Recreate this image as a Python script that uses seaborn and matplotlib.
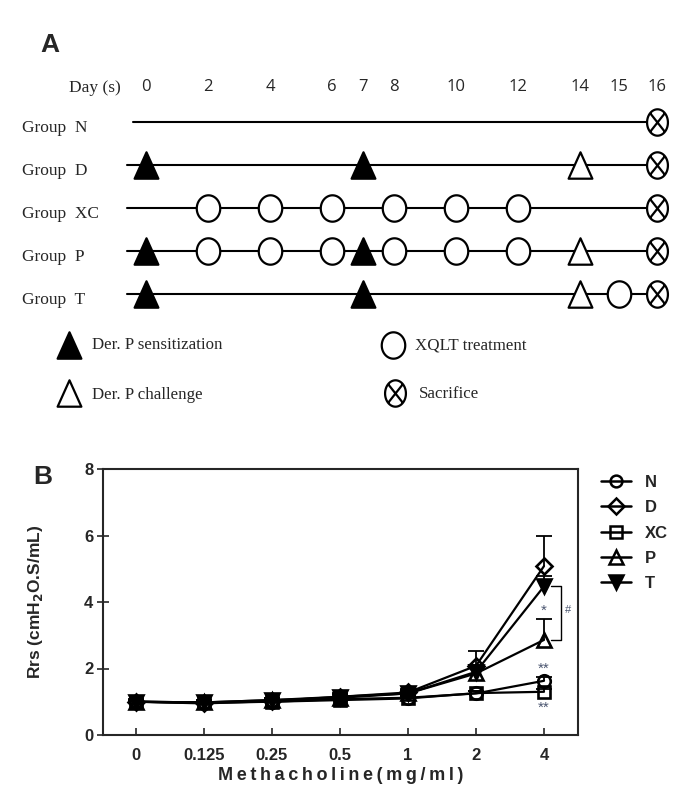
import numpy as np
import pandas as pd
import matplotlib
matplotlib.use("Agg")
import matplotlib.pyplot as plt
import seaborn as sns
from matplotlib.path import Path
from matplotlib.lines import Line2D

# ---- Panel A : 実験スケジュール ----
groups_a = ["N", "D", "XC", "P", "T"]
day_ticks = [0, 2, 4, 6, 7, 8, 10, 12, 14, 15, 16]
sensitization_days = {"N": [], "D": [0, 7], "XC": [], "P": [0, 7], "T": [0, 7]}
challenge_days = {"N": [], "D": [14], "XC": [], "P": [14], "T": [14]}
treatment_days = {"N": [], "D": [], "XC": [2, 4, 6, 8, 10, 12],
                  "P": [2, 4, 6, 8, 10, 12], "T": [15]}
sacrifice_day = 16
line_start = {"N": -0.42, "D": -0.6, "XC": -0.6, "P": -0.6, "T": -0.6}

# ---- Panel B : 気道抵抗 ----
doses = ["0", "0.125", "0.25", "0.5", "1", "2", "4"]
groups_b = ["N", "D", "XC", "P", "T"]
rrs_N = [1.00, 0.97, 1.00, 1.08, 1.12, 1.25, 1.63]
rrs_D = [1.00, 0.95, 1.02, 1.15, 1.28, 2.08, 5.08]
rrs_XC = [1.00, 0.98, 1.00, 1.05, 1.10, 1.26, 1.30]
rrs_P = [1.00, 0.98, 1.05, 1.12, 1.25, 1.85, 2.86]
rrs_T = [1.00, 0.98, 1.05, 1.15, 1.25, 1.90, 4.47]
err_N = [0.05, 0.05, 0.05, 0.06, 0.06, 0.08, 0.10]
err_D = [0.08, 0.08, 0.08, 0.10, 0.10, 0.44, 0.92]
err_XC = [0.05, 0.05, 0.05, 0.05, 0.06, 0.06, 0.08]
err_P = [0.06, 0.06, 0.06, 0.08, 0.10, 0.20, 0.64]
err_T = [0.06, 0.06, 0.06, 0.08, 0.10, 0.20, 0.30]

sns.set_style("ticks")
plt.rcParams['font.family'] = ['Liberation Sans', 'DejaVu Sans']

fig = plt.figure(figsize=(6.85, 8.06), dpi=100)

# ---------------- Panel A ----------------
SERIF = ['Liberation Serif', 'DejaVu Serif']
DIGIT = ['Open Sans', 'DejaVu Sans']


def fwd(d):
    d = np.asarray(d, dtype=float)
    return d + 0.25 * np.clip(d - 14, 0, None)


def inv(u):
    u = np.asarray(u, dtype=float)
    return np.where(u <= 14, u, 14 + (u - 14) / 1.25)


def px2day(px):
    # 左側の注記用（14日より前の範囲）
    return (px - 146) / 31.0


def ellipse_path(ratio):
    t = np.linspace(0, 2 * np.pi, 73)
    return Path(np.column_stack([ratio * 0.5 * np.sin(t), 0.5 * np.cos(t)]), closed=True)


circle_mk = ellipse_path(0.89)
c = 0.5 * np.sqrt(0.5)
r = 0.79
sacrifice_mk = Path.make_compound_path(
    ellipse_path(r),
    Path([[-r * c, -c], [r * c, c]]),
    Path([[-r * c, c], [r * c, -c]]),
)
tri_mk = Path([[-0.45, -0.5], [0.45, -0.5], [0, 0.5], [-0.45, -0.5]], closed=True)

axA = fig.add_axes([0, 1 - 440 / 806, 1, 440 / 806])
axA.set_xscale('function', functions=(fwd, inv))
axA.set_xlim(-4.71, float(inv(17.39)))
axA.set_ylim((440 - 122) / 43, -122 / 43)
axA.axis('off')

mk = dict(markersize=19, markeredgewidth=1.6, markeredgecolor='black', linestyle='none', zorder=3)
for i, g in enumerate(groups_a):
    axA.plot([line_start[g], sacrifice_day], [i, i], color='black', lw=1.5, zorder=1)
    if sensitization_days[g]:
        axA.plot(sensitization_days[g], [i] * len(sensitization_days[g]), marker=tri_mk,
                 markerfacecolor='black', **mk)
    if challenge_days[g]:
        axA.plot(challenge_days[g], [i] * len(challenge_days[g]), marker=tri_mk,
                 markerfacecolor='white', **mk)
    if treatment_days[g]:
        axA.plot(treatment_days[g], [i] * len(treatment_days[g]), marker=circle_mk,
                 markerfacecolor='white', **mk)
    axA.plot([sacrifice_day], [i], marker=sacrifice_mk, markerfacecolor='white', **mk)
    axA.text(px2day(22), i + 0.14, f"Group  {g}", family=SERIF, fontsize=12.5,
             ha='left', va='center')

axA.text(px2day(69), -0.79, "Day (s)", family=SERIF, fontsize=12.5, ha='left', va='center')
for d in day_ticks:
    axA.text(d, -0.81, str(d), family=DIGIT, fontsize=12, ha='center', va='center')

# 凡例（記号の説明）
leg_rows = [(345 - 122) / 43, (393 - 122) / 43]
axA.plot([px2day(69.5)], [leg_rows[0]], marker=tri_mk, markerfacecolor='black', **mk)
axA.plot([px2day(69.5)], [leg_rows[1]], marker=tri_mk, markerfacecolor='white', **mk)
axA.plot([px2day(393.5)], [leg_rows[0]], marker=circle_mk, markerfacecolor='white', **mk)
axA.plot([px2day(395)], [leg_rows[1]], marker=sacrifice_mk, markerfacecolor='white', **mk)
axA.text(px2day(92), leg_rows[0], "Der. P sensitization", family=SERIF, fontsize=12.2,
         ha='left', va='center')
axA.text(px2day(92), leg_rows[1] + 0.05, "Der. P challenge", family=SERIF, fontsize=12.2,
         ha='left', va='center')
axA.text(px2day(415), leg_rows[0], "XQLT treatment", family=SERIF, fontsize=12.2,
         ha='left', va='center')
axA.text(px2day(419), leg_rows[1] + 0.02, "Sacrifice", family=SERIF, fontsize=12.2,
         ha='left', va='center')

fig.text(40 / 685, 1 - 33 / 806, "A", fontsize=19, fontweight='bold', ha='left', va='top')
fig.text(33 / 685, 1 - 465 / 806, "B", fontsize=19, fontweight='bold', ha='left', va='top')

# ---------------- Panel B ----------------
axB = fig.add_axes([103 / 685, 1 - 735 / 806, 475 / 685, 266 / 806])
x_idx = np.arange(len(doses))
series = {"N": rrs_N, "D": rrs_D, "XC": rrs_XC, "P": rrs_P, "T": rrs_T}
errors = {"N": err_N, "D": err_D, "XC": err_XC, "P": err_P, "T": err_T}
markers = {"N": "o", "D": "D", "XC": "s", "P": "^", "T": "v"}
msizes = {"N": 9, "D": 8.5, "XC": 8.5, "P": 10, "T": 10}
faces = {"N": "none", "D": "none", "XC": "none", "P": "none", "T": "black"}

df = pd.DataFrame({
    "dose": np.tile(x_idx, len(groups_b)),
    "rrs": np.concatenate([series[g] for g in groups_b]),
    "err": np.concatenate([errors[g] for g in groups_b]),
    "group": np.repeat(groups_b, len(doses)),
})

for g in groups_b:
    sub = df[df["group"] == g]
    eb = axB.errorbar(sub["dose"], sub["rrs"], yerr=[np.zeros(len(sub)), sub["err"]],
                      fmt='none', ecolor='black', elinewidth=1.3, capsize=5.5, capthick=1.3,
                      zorder=2)
    eb[1][0].set_visible(False)

for g in groups_b:
    sub = df[df["group"] == g]
    sns.lineplot(data=sub, x="dose", y="rrs", ax=axB, color='black', lw=1.6,
                 marker=markers[g], markersize=msizes[g], markerfacecolor=faces[g],
                 markeredgecolor='black', markeredgewidth=1.9, errorbar=None, zorder=3)

axB.set_xlim(-0.485, 6.5)
axB.set_ylim(0, 8)
axB.set_xticks(x_idx)
axB.set_xticklabels(doses)
axB.set_yticks([0, 2, 4, 6, 8])
for sp in axB.spines.values():
    sp.set_visible(True)
    sp.set_linewidth(1.5)
axB.tick_params(axis='x', direction='in', length=5, width=1.2, labelsize=12, pad=9)
axB.tick_params(axis='y', direction='inout', length=8, width=1.2, labelsize=12, pad=3)
for lab in axB.get_xticklabels() + axB.get_yticklabels():
    lab.set_fontweight('bold')

axB.set_xlabel("\u2009".join("Methacholine(mg/ml)"), fontsize=13, fontweight='bold',
               labelpad=3)
axB.set_ylabel(r"Rrs (cmH$_\mathbf{2}$O.S/mL)", fontsize=12.5, fontweight='bold')
axB.yaxis.set_label_coords(-0.122, 0.5)

# 有意差の注記
note_color = '#4b5670'
axB.text(6, 3.75, "*", color=note_color, fontsize=11, ha='center', va='center')
axB.text(6, 2.0, "**", color=note_color, fontsize=11, ha='center', va='center')
axB.text(6, 0.82, "**", color=note_color, fontsize=11, ha='center', va='center')
axB.plot([6.1, 6.25, 6.25, 6.1], [rrs_T[-1], rrs_T[-1], rrs_P[-1], rrs_P[-1]],
         color='black', lw=1.0)
axB.text(6.36, 3.75, "#", color=note_color, fontsize=8, ha='center', va='center')

handles = [Line2D([], [], color='black', lw=1.8, marker=markers[g], markersize=msizes[g] - 0.5,
                  markerfacecolor=faces[g], markeredgecolor='black', markeredgewidth=1.8)
           for g in groups_b]
fig.legend(handles, groups_b, loc='upper left', bbox_to_anchor=(601 / 685, 1 - 475 / 806),
           frameon=False, prop={'weight': 'bold', 'size': 12}, handlelength=1.8,
           handletextpad=0.85, labelspacing=0.62, borderpad=0, borderaxespad=0)

fig.savefig("out.png", dpi=100)
